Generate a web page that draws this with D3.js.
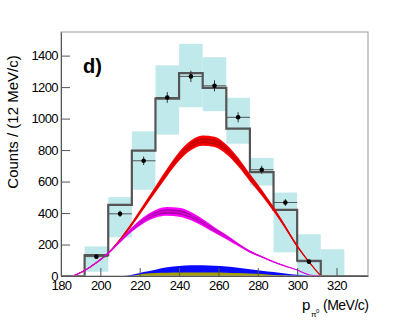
<!DOCTYPE html>
<html>
<head>
<meta charset="utf-8">
<script src="https://cdn.jsdelivr.net/npm/d3@7/dist/d3.min.js"></script>
<style>
  body { margin: 0; background: #fff; }
  text { font-family: "Liberation Sans", Arial, Helvetica, sans-serif; }
</style>
</head>
<body>
<div id="chart"></div>
<script>
// histogram bins (12 MeV/c wide), bin centres
const binCenters = [186, 198, 210, 222, 234, 246, 258, 270, 282, 294, 306, 318, 330];
const mcHist     = [0, 132, 452, 796, 1127, 1289, 1195, 936, 660, 420, 97, 0, 0];

// data points + stat errors
const dataX   = [198, 210, 222, 234, 246, 258, 270, 282, 294, 306];
const dataY   = [123, 395, 732, 1134, 1268, 1208, 1008, 675, 467, 91];
const dataErr = [11, 20, 27, 34, 36, 35, 32, 26, 22, 10];

// systematic boxes
const sysX  = [198, 210, 222, 234, 246, 258, 270, 282, 294, 306, 318];
const sysLo = [27, 246, 548, 898, 1072, 1047, 840, 575, 150, 0, 5];
const sysHi = [188, 501, 919, 1338, 1475, 1390, 1132, 750, 530, 265, 170];

// fitted components
const curveX = [186, 192, 198, 204, 210, 216, 222, 228, 234, 240, 246, 252, 258, 264, 270, 276, 282, 288, 294, 300, 306, 312];
const redY   = [0, 35, 85, 145, 230, 330, 440, 550, 660, 760, 830, 860, 852, 805, 725, 625, 530, 425, 310, 190, 90, 0];
const redErr = [0, 2, 4, 6, 9, 12, 16, 20, 24, 28, 31, 33, 33, 31, 28, 24, 20, 16, 12, 8, 4, 0];
const magY   = [0, 35, 85, 145, 220, 295, 355, 395, 410, 405, 380, 340, 292, 248, 200, 155, 122, 90, 63, 38, 8, 0];
const magErr = [0, 2, 4, 6, 9, 14, 20, 25, 28, 28, 26, 22, 18, 14, 10, 7, 5, 3, 2, 1, 0, 0];

const blueX  = [212, 216, 222, 228, 234, 240, 246, 252, 258, 264, 270, 276, 282, 288, 294, 300, 306, 310];
const blueY  = [0, 8, 25, 40, 55, 64, 68, 68, 65, 60, 52, 43, 34, 25, 16, 8, 2, 0];
const oliveX = [216, 222, 228, 234, 240, 246, 252, 258, 264, 270, 276, 282, 288, 294, 300];
const oliveY = [0, 14, 19, 21, 22, 23, 23, 22, 21, 19, 16, 12, 7, 3, 0];

const xTicks = [180, 200, 220, 240, 260, 280, 300, 320];
const yTicks = [0, 200, 400, 600, 800, 1000, 1200, 1400];

const binW = 12;
var W = 409, H = 327;
var L = 61, R = 368, T = 32, B = 276;

var svg = d3.select("#chart").append("svg")
  .attr("width", W).attr("height", H);

var x = d3.scaleLinear().domain([180, 336]).range([L, R]);
var y = d3.scaleLinear().domain([0, 1550]).range([B, T]);

// sys boxes
svg.append("g").selectAll("rect")
  .data(sysX)
  .enter().append("rect")
  .attr("x", function (d) { return x(d - binW / 2); })
  .attr("width", function (d) { return x(d + binW / 2) - x(d - binW / 2); })
  .attr("y", function (d, i) { return y(sysHi[i]); })
  .attr("height", function (d, i) { return y(sysLo[i]) - y(sysHi[i]); })
  .attr("fill", "#c0e9ec");

// MC histogram as a step line
var steps = [];
binCenters.forEach(function (c, i) {
  steps.push([c - binW / 2, mcHist[i]]);
  steps.push([c + binW / 2, mcHist[i]]);
});
svg.append("path")
  .datum(steps)
  .attr("fill", "none")
  .attr("stroke", "#555")
  .attr("stroke-width", 2.2)
  .attr("d", d3.line().x(function (d) { return x(d[0]); }).y(function (d) { return y(d[1]); }));

// bands
function band(xs, ys, es, k) {
  return d3.area()
    .curve(d3.curveMonotoneX)
    .x(function (d, i) { return x(xs[i]); })
    .y0(function (d, i) { return y(ys[i] - es[i] * k); })
    .y1(function (d, i) { return y(ys[i] + es[i] * k); })(xs);
}
function centre(xs, ys) {
  return d3.line()
    .curve(d3.curveMonotoneX)
    .x(function (d, i) { return x(xs[i]); })
    .y(function (d, i) { return y(ys[i]); })(xs);
}

var fill = function (xs, ys) {
  return d3.area()
    .curve(d3.curveMonotoneX)
    .x(function (d, i) { return x(xs[i]); })
    .y0(y(0))
    .y1(function (d, i) { return y(ys[i]); })(xs);
};

svg.append("path").attr("d", fill(blueX, blueY)).attr("fill", "#0a0aff");
svg.append("path").attr("d", fill(oliveX, oliveY)).attr("fill", "#a3a000");

svg.append("path").attr("d", band(curveX, redY, redErr, 1)).attr("fill", "#ff0000");
svg.append("path").attr("d", band(curveX, redY, redErr, 0.5)).attr("fill", "#c80000");
svg.append("path").attr("d", centre(curveX, redY)).attr("fill", "none").attr("stroke", "#e00000").attr("stroke-width", 1.2);

svg.append("path").attr("d", band(curveX, magY, magErr, 1)).attr("fill", "#ff00ff");
svg.append("path").attr("d", band(curveX, magY, magErr, 0.5)).attr("fill", "#a800a8");
svg.append("path").attr("d", centre(curveX, magY)).attr("fill", "none").attr("stroke", "#e000e0").attr("stroke-width", 1.2);

// data points
var pts = svg.append("g");
pts.selectAll("line.h").data(dataX).enter().append("line")
  .attr("x1", function (d) { return x(d - binW / 2); })
  .attr("x2", function (d) { return x(d + binW / 2); })
  .attr("y1", function (d, i) { return y(dataY[i]); })
  .attr("y2", function (d, i) { return y(dataY[i]); })
  .attr("stroke", "#555").attr("stroke-width", 1);
pts.selectAll("line.v").data(dataX).enter().append("line")
  .attr("x1", function (d) { return x(d); })
  .attr("x2", function (d) { return x(d); })
  .attr("y1", function (d, i) { return y(dataY[i] - dataErr[i]); })
  .attr("y2", function (d, i) { return y(dataY[i] + dataErr[i]); })
  .attr("stroke", "#333").attr("stroke-width", 1);
pts.selectAll("circle").data(dataX).enter().append("circle")
  .attr("cx", function (d) { return x(d); })
  .attr("cy", function (d, i) { return y(dataY[i]); })
  .attr("r", 2.3)
  .attr("fill", "#000");

// frame
svg.append("rect")
  .attr("x", L).attr("y", T).attr("width", R - L).attr("height", B - T)
  .attr("fill", "none").attr("stroke", "#999").attr("stroke-width", 1);

// axes (ticks inside)
var yMinor = d3.range(0, 1550, 40);
var xMinor = d3.range(180, 337, 4);

var gy = svg.append("g").attr("transform", "translate(" + L + ",0)");
gy.call(d3.axisLeft(y).tickValues(yMinor).tickSize(-4).tickSizeOuter(0).tickFormat(""));
gy.call(d3.axisLeft(y).tickValues(yTicks).tickSize(-9).tickSizeOuter(0).tickPadding(3).tickFormat(d3.format("d")));
gy.selectAll("path.domain").attr("stroke", "#555");
gy.selectAll("line").attr("stroke", "#555");

var gx = svg.append("g").attr("transform", "translate(0," + B + ")");
gx.call(d3.axisBottom(x).tickValues(xMinor).tickSize(-4).tickSizeOuter(0).tickFormat(""));
gx.call(d3.axisBottom(x).tickValues(xTicks).tickSize(-8).tickSizeOuter(0).tickPadding(5).tickFormat(d3.format("d")));
gx.selectAll("path.domain").attr("stroke", "#555");
gx.selectAll("line").attr("stroke", "#555");

svg.selectAll(".tick text")
  .style("font-size", "13px")
  .style("letter-spacing", "-0.6px")
  .attr("fill", "#000");

// titles
svg.append("text")
  .attr("transform", "translate(18,122) rotate(-90)")
  .attr("text-anchor", "middle")
  .style("font-size", "15px")
  .text("Counts / (12 MeV/c)");

svg.append("text").attr("x", 302).attr("y", 310).style("font-size", "15px").text("p");
svg.append("text").attr("x", 311).attr("y", 317).style("font-size", "8px").text("π");
svg.append("text").attr("x", 316).attr("y", 313).style("font-size", "6px").text("0");
svg.append("text").attr("x", 323).attr("y", 310)
  .style("font-size", "14px").style("letter-spacing", "-0.5px").text("(MeV/c)");

svg.append("text").attr("x", 83).attr("y", 73)
  .style("font-size", "20px").style("font-weight", "bold").text("d)");
</script>
</body>
</html>
